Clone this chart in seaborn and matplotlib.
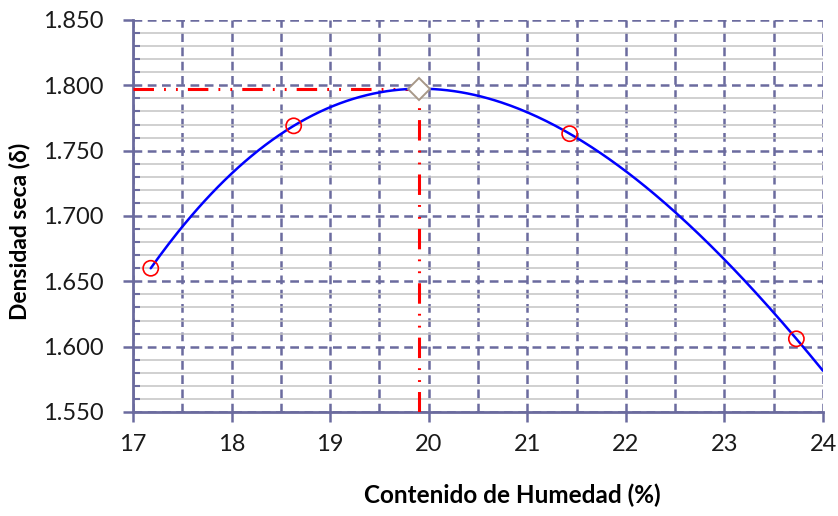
import numpy as np
import pandas as pd
import matplotlib
matplotlib.use("Agg")
import matplotlib.pyplot as plt
import seaborn as sns
from matplotlib.ticker import MultipleLocator, FormatStrFormatter

# Data
humedad = [17.18, 18.63, 21.43, 23.73]
densidad = [1.660, 1.769, 1.763, 1.606]
w_opt = 19.90
d_max = 1.797
x_end = 24.0

sns.set_theme(style="white")
plt.rcParams['font.family'] = ['Lato', 'DejaVu Sans']

grid_c = '#6b6b9e'

fig = plt.figure(figsize=(8.38, 5.16), dpi=100)
ax = fig.add_axes([133/838, 1 - 412/516, 690/838, 392/516])

# trendline (cubic fit of the data)
coef = np.polyfit(humedad, densidad, 3)
xs = np.linspace(humedad[0], x_end, 300)
curve = pd.DataFrame({'x': xs, 'y': np.polyval(coef, xs)})

ax.set_xlim(17, 24)
ax.set_ylim(1.55, 1.85)

# grid
ax.yaxis.set_major_locator(MultipleLocator(0.05))
ax.yaxis.set_minor_locator(MultipleLocator(0.01))
ax.xaxis.set_major_locator(MultipleLocator(1))
ax.xaxis.set_minor_locator(MultipleLocator(0.5))
ax.grid(False)
ax.grid(which='minor', axis='y', color='#c4c4c4', lw=1.1, ls='-', zorder=0)
ax.grid(which='major', axis='y', color=grid_c, lw=1.8, ls=(0, (3.5, 2.2)), zorder=1)
ax.grid(which='both', axis='x', color=grid_c, lw=1.8, ls=(0, (3.5, 2.2)), zorder=1)
ax.set_axisbelow(True)

# optimum reference lines
red_ls = (0, (6.7, 3.3, 0.6, 3.3, 0.6, 3.3))
ax.plot([17, w_opt], [d_max, d_max], color='red', lw=2.2, ls=red_ls, zorder=3)
ax.plot([w_opt, w_opt], [1.55, d_max], color='red', lw=2.2, ls=red_ls, zorder=3)

sns.lineplot(data=curve, x='x', y='y', ax=ax, color='#0000ff', lw=1.8, zorder=4)
sns.scatterplot(x=humedad, y=densidad, ax=ax, s=120, facecolor='none',
                edgecolor='red', linewidth=1.2, zorder=5)
ax.plot([w_opt], [d_max], marker='D', ms=11, mfc='white', mec='#a89888', mew=1.4,
        zorder=6, clip_on=False)

# spines
for s in ['top', 'right']:
    ax.spines[s].set_visible(False)
for s in ['left', 'bottom']:
    ax.spines[s].set_color(grid_c)
    ax.spines[s].set_linewidth(2)
    ax.spines[s].set_zorder(2)

ax.yaxis.set_major_formatter(FormatStrFormatter('%.3f'))
ax.tick_params(axis='y', which='major', direction='out', length=7, width=1.8,
               color=grid_c, labelsize=17, pad=14, left=True)
ax.tick_params(axis='y', which='minor', direction='in', length=5, width=1.5,
               color=grid_c, left=True)
ax.tick_params(axis='x', which='major', direction='out', length=7, width=1.8,
               color=grid_c, labelsize=17, pad=9, bottom=True)
ax.tick_params(axis='x', which='minor', length=0)
for lab in ax.get_xticklabels() + ax.get_yticklabels():
    lab.set_color('#1a1a1a')

ax.set_xlabel('Contenido de Humedad (%)', fontsize=17.5, fontweight='bold',
              color='black')
ax.set_ylabel('Densidad seca (δ)', fontsize=16.5, fontweight='bold',
              color='black')
ax.xaxis.set_label_coords((512 - 133) / 690, (412 - 484) / 392)
ax.yaxis.set_label_coords((30 - 133) / 690, (412 - 231) / 392)

fig.savefig('out.png', dpi=100)
